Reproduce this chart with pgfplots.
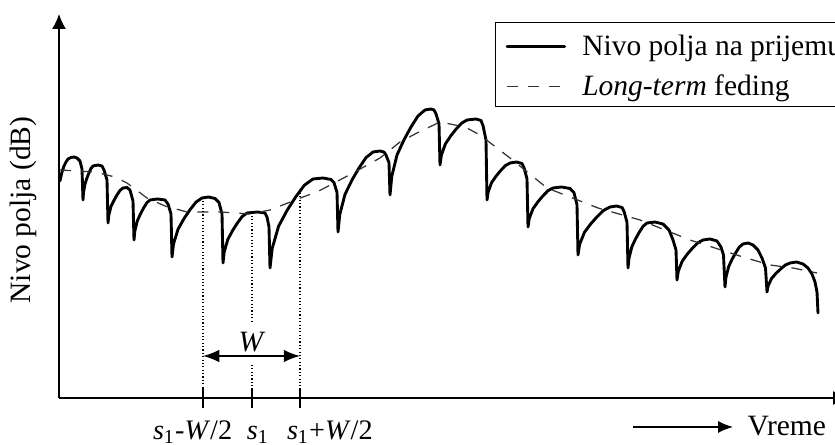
\documentclass[border=0pt]{standalone}
\usepackage{fontspec}
\setmainfont{Liberation Serif}
\usepackage{pgfplots}
\pgfplotsset{compat=1.18}
\usetikzlibrary{arrows.meta}
\begin{document}
\fontsize{11.8}{14}\selectfont
\begin{tikzpicture}[font=\fontsize{11.8}{14}\selectfont]
\begin{axis}[
 x=0.4pt, y=0.4pt,
 xmin=59, xmax=848, ymin=-398, ymax=-14,
 enlargelimits=false, clip=false,
 axis x line=bottom, axis y line=left,
 x axis line style={line width=0.55pt, -{Latex[length=6pt,width=5.6pt]}},
 y axis line style={line width=0.55pt, -{Latex[length=6pt,width=5.6pt]}},
 xtick={203,252,300},
 xticklabels={\makebox[0pt][l]{\hspace*{-20pt}\textit{s}\textsubscript{1}-\textit{W}/2},
              \makebox[0pt][l]{\hspace*{-2pt}\textit{s}\textsubscript{1}},
              \makebox[0pt][l]{\hspace*{-5.2pt}\textit{s}\textsubscript{1}+\textit{W}/2}},
 ytick=\empty,
 tick align=center, major tick length=8pt,
 tick style={line width=0.5pt, black},
 xticklabel style={anchor=base, inner sep=0pt, yshift=-12.6pt, font=\fontsize{11.3}{13}\selectfont},
 xlabel={Vreme}, ylabel={Nivo polja (dB)},
 every axis x label/.style={at={(axis description cs:0.8720,-0.0964)}, anchor=base west, inner sep=0pt},
 every axis y label/.style={at={(axis description cs:-0.0456,0.4896)}, anchor=center, rotate=90, inner sep=0pt},
 legend style={at={(axis description cs:0.5526,0.9792)}, anchor=north west, draw=black, line width=0.5pt,
   inner xsep=4pt, inner ysep=3pt, row sep=4.4pt, column sep=6.5pt,
   nodes={inner sep=0pt, text height=10.2pt, text depth=1.4pt, anchor=base west}},
 legend cell align=left,
 legend image code/.code={\draw[#1] (0pt,3.6pt) -- (23pt,3.6pt);},
]
% received field level
\addplot[black, line width=1.15pt, line join=round, line cap=round] coordinates {
(60,-181) (62,-172) (64,-166) (66,-162) (68,-159) (71,-157.5) (74,-157) (77,-158) (80,-161) (82,-169) (83,-200)
(83.5,-192.5) (85,-184) (87,-177.9) (89,-172.8) (91,-168.4) (93,-166) (98,-165) (102,-166) (104,-170) (107,-180) (108,-223)
(108.8,-215.3) (111,-206.5) (114,-200.3) (117,-195) (120,-190.4) (123,-188) (127,-187.5) (130,-190) (133,-201) (134,-240)
(134.8,-231.2) (137.2,-221.2) (140.4,-214) (143.6,-208) (146.8,-202.8) (150,-200) (157.5,-199) (165,-200) (168,-204) (171,-214) (172,-257)
(173.5,-244) (178,-229.3) (184,-218.6) (190,-209.8) (196,-202.1) (202,-198) (208.5,-197) (215,-198.5) (219,-202.5) (222,-214) (223,-263)
(224.2,-252) (227.8,-239.5) (232.6,-230.5) (237.4,-223) (242.2,-216.5) (247,-213) (257.5,-212) (265,-213) (267,-217) (269,-226.8) (270,-268)
(272.2,-248.4) (278.6,-226.2) (287.2,-210.2) (295.8,-196.8) (304.4,-185.2) (313,-179) (323,-178) (331,-179.5) (334,-182.7) (337,-192.3) (338,-232)
(339.8,-214.4) (345,-194.4) (352,-180) (359,-168) (366,-157.6) (373,-152) (380,-151) (384,-152) (386,-155) (389,-162.8) (390,-195)
(391.8,-176.3) (397,-155) (404,-139.8) (411,-127) (418,-116) (425,-110) (431,-109) (434,-110) (436,-113.9) (439,-123.8) (440,-165)
(441.4,-155.1) (445.4,-143.9) (450.8,-135.8) (456.2,-129) (461.6,-123.2) (467,-120) (476,-119) (481,-120.5) (483,-125.6) (486,-140) (487,-200)
(488.2,-191.9) (491.6,-182.6) (496.2,-176) (500.8,-170.4) (505.4,-165.6) (510,-163) (516.5,-162) (522,-163.5) (524,-167.5) (527,-179) (528,-227)
(529.3,-218.4) (533,-208.7) (538,-201.7) (543,-195.8) (548,-190.7) (553,-188) (561.5,-187) (570,-188.5) (574,-192.7) (577,-204.8) (578,-255)
(579.6,-244.4) (584.4,-232.4) (590.8,-223.8) (597.2,-216.6) (603.6,-210.4) (610,-207) (616.5,-206) (622,-207.5) (624,-211.3) (627,-222.3) (628,-268)
(629,-258.1) (631.8,-246.9) (635.6,-238.8) (639.4,-232) (643.2,-226.2) (647,-223) (655,-222) (663,-224) (669,-230) (673,-240) (676,-250) (677,-280)
(678.3,-271.2) (682.2,-261.2) (687.4,-254) (692.6,-248) (697.8,-242.8) (703,-240) (710,-239) (717,-241) (721,-247) (723.5,-255) (725,-287)
(725.9,-277.5) (728.6,-266.8) (732.2,-259) (735.8,-252.6) (739.4,-247) (743,-244) (748,-243) (753,-245) (758,-250) (762,-258) (765.5,-268) (767,-292)
(768.2,-285.6) (771.6,-278.4) (776.2,-273.2) (780.8,-268.8) (785.4,-265) (790,-263) (796.5,-262) (803,-264) (808,-268) (812,-274) (815,-282) (817,-292) (818,-313)
};
\addlegendentry{Nivo polja na prijemu}
% long-term fading
\addplot[black!80, line width=0.5pt, dash pattern=on 4.4pt off 4pt] coordinates {
(60,-170) (95,-172) (115,-177) (127,-183) (147,-198) (165,-206) (187,-212) (220,-212) (250,-214) (270,-210)
(303,-197) (317,-192) (353,-173) (380,-158) (400,-142) (417,-133) (440,-122) (465,-127) (480,-135) (510,-158)
(547,-188) (598,-208) (640,-220) (690,-240) (743,-257) (770,-265) (793,-268) (817,-273)
};
\addlegendentry{\textit{Long-term} feding}
% window markers
\draw[line width=0.45pt, dash pattern=on 0.45pt off 0.9pt] (axis cs:203,-201) -- (axis cs:203,-398);
\draw[line width=0.45pt, dash pattern=on 0.45pt off 0.9pt] (axis cs:252,-216) -- (axis cs:252,-324);
\draw[line width=0.45pt, dash pattern=on 0.45pt off 0.9pt] (axis cs:252,-365) -- (axis cs:252,-398);
\draw[line width=0.45pt, dash pattern=on 0.45pt off 0.9pt] (axis cs:300,-193) -- (axis cs:300,-398);
\draw[line width=0.6pt, {Latex[length=6.5pt,width=5pt]}-{Latex[length=6.5pt,width=5pt]}] (axis cs:203,-356) -- (axis cs:300,-356);
\node[anchor=base, inner sep=0pt] at (axis cs:252,-352) {\textit{W}};
\draw[line width=0.5pt, -{Latex[length=6pt,width=4.8pt]}] (axis cs:633,-427) -- (axis cs:733,-427);
\end{axis}
\pgfresetboundingbox
\path (-23.6pt,-18.8pt) rectangle (310.4pt,159.2pt);
\end{tikzpicture}
\end{document}
